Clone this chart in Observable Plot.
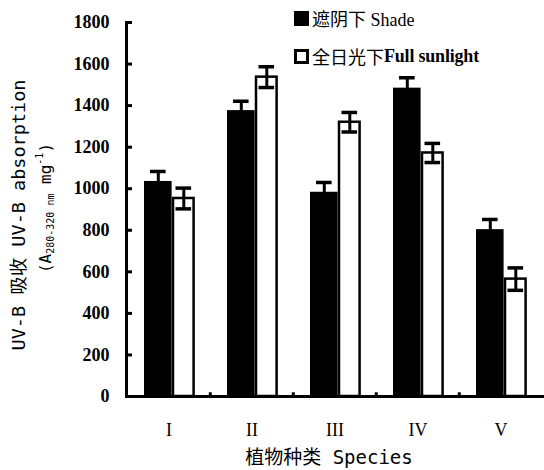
<!DOCTYPE html>
<html>
<head>
<meta charset="utf-8">
<script src="https://cdn.jsdelivr.net/npm/d3@7"></script>
<script src="https://cdn.jsdelivr.net/npm/@observablehq/plot@0.6"></script>
<style>
  html, body { margin: 0; padding: 0; background: #fff; }
  #wrap { position: relative; width: 544px; height: 470px; }
  #legend { position: absolute; left: 294px; top: 8px; font-family: "Liberation Serif", "Noto Sans CJK SC", serif; font-size: 18px; color: #000; }
  .row { display: flex; align-items: center; height: 20px; margin-bottom: 18px; white-space: nowrap; }
  .sw { width: 15px; height: 15px; box-sizing: border-box; margin-right: 3px; }
  .sw.shade { background: #000; }
  .sw.sun { background: #fff; border: 3px solid #000; }
  .bold { font-weight: bold; letter-spacing: -0.2px; }
</style>
</head>
<body>
<div id="wrap">
  <div id="chart"></div>
  <div id="legend"></div>
</div>
<script>
// ---- data ----
const species = ["I", "II", "III", "IV", "V"];
const shadeValues = [1035, 1376, 983, 1484, 803];
const shadeErrors = [48, 45, 47, 50, 49];
const sunValues = [953, 1537, 1320, 1172, 565];
const sunErrors = [50, 50, 47, 46, 54];
const yTicks = [0, 200, 400, 600, 800, 1000, 1200, 1400, 1600, 1800];
const seriesNames = ["遮阴下 Shade", "全日光下Full sunlight"];

const rows = species.map((s, i) => ({
  species: s,
  shade: shadeValues[i], shadeLo: shadeValues[i] - shadeErrors[i], shadeHi: shadeValues[i] + shadeErrors[i],
  sun: sunValues[i], sunLo: sunValues[i] - sunErrors[i], sunHi: sunValues[i] + sunErrors[i]
}));

const W = 544, H = 470, mL = 126, mR = 1, mT = 22, mB = 74;
const bw = (W - mL - mR) / species.length;
const cShade = 31, cSun = 56.5, capHalf = 8;

const serif = "Liberation Serif, DejaVu Serif, serif";

const svg = Plot.plot({
  width: W, height: H,
  marginLeft: mL, marginRight: mR, marginTop: mT, marginBottom: mB,
  style: { background: "#fff", color: "#000" },
  x: { domain: species, padding: 0, label: null },
  y: { domain: [0, 1800], label: null },
  marks: [
    Plot.barY(rows, { x: "species", y: "shade", fill: "#000", insetLeft: 17, insetRight: bw - 45 }),
    Plot.barY(rows, { x: "species", y: "sun", fill: "#fff", stroke: "#000", strokeWidth: 2.5, insetLeft: 46, insetRight: bw - 67 }),
    // error bars shade
    Plot.ruleX(rows, { x: "species", y1: "shadeLo", y2: "shadeHi", dx: cShade - bw / 2, stroke: "#000", strokeWidth: 3 }),
    Plot.tickY(rows, { x: "species", y: "shadeHi", insetLeft: cShade - capHalf, insetRight: bw - cShade - capHalf, stroke: "#000", strokeWidth: 3.5 }),
    Plot.tickY(rows, { x: "species", y: "shadeLo", insetLeft: cShade - capHalf, insetRight: bw - cShade - capHalf, stroke: "#000", strokeWidth: 3.5 }),
    // error bars sun
    Plot.ruleX(rows, { x: "species", y1: "sunLo", y2: "sunHi", dx: cSun - bw / 2, stroke: "#000", strokeWidth: 3 }),
    Plot.tickY(rows, { x: "species", y: "sunHi", insetLeft: cSun - capHalf, insetRight: bw - cSun - capHalf, stroke: "#000", strokeWidth: 3.5 }),
    Plot.tickY(rows, { x: "species", y: "sunLo", insetLeft: cSun - capHalf, insetRight: bw - cSun - capHalf, stroke: "#000", strokeWidth: 3.5 }),
    // small boundary ticks on x axis
    Plot.ruleX(species.slice(1), { x: d => d, y1: 0, y2: 18, dx: -bw / 2, stroke: "#000", strokeWidth: 3 }),
    // axis lines
    Plot.frame({ anchor: "left", stroke: "#000", strokeWidth: 3 }),
    Plot.frame({ anchor: "bottom", stroke: "#000", strokeWidth: 3 }),
    Plot.axisY({ ticks: yTicks, tickFormat: d => String(d), tickSize: 6, dx: 6, tickPadding: 17, strokeWidth: 3,
      fontSize: 18, fontWeight: "bold", fontFamily: serif }),
    Plot.axisX({ tickSize: 0, tickPadding: 27, fontSize: 18, fontFamily: serif })
  ]
});

document.getElementById("chart").appendChild(svg);

// axis titles
const s = d3.select(svg);
s.append("text")
  .attr("x", 329).attr("y", 457)
  .attr("text-anchor", "middle").attr("dominant-baseline", "central")
  .attr("font-family", "DejaVu Sans Mono, Noto Sans CJK SC, monospace")
  .attr("font-size", 19).attr("fill", "#000")
  .text("植物种类 Species");

s.append("text")
  .attr("transform", "translate(18,215) rotate(-90)")
  .attr("text-anchor", "middle").attr("dominant-baseline", "central")
  .attr("font-family", "DejaVu Sans Mono, Noto Sans CJK SC, monospace")
  .attr("font-size", 18.5).attr("fill", "#000")
  .text("UV-B 吸收 UV-B absorption");

const t2 = s.append("text")
  .attr("transform", "translate(45,208) rotate(-90)")
  .attr("text-anchor", "middle").attr("dominant-baseline", "central")
  .attr("font-family", "DejaVu Sans Mono, monospace")
  .attr("font-size", 16).attr("fill", "#000");
t2.append("tspan").text("(A");
t2.append("tspan").attr("font-size", 10).attr("dy", 5).text("280-320 nm");
t2.append("tspan").attr("dy", -5).text(" mg");
t2.append("tspan").attr("font-size", 10).attr("dy", -6).text("-1");
t2.append("tspan").attr("dy", 6).text(")");

// legend
const legend = d3.select("#legend");
const lr1 = legend.append("div").attr("class", "row");
lr1.append("div").attr("class", "sw shade");
lr1.append("span").text(seriesNames[0]);
const lr2 = legend.append("div").attr("class", "row");
lr2.append("div").attr("class", "sw sun");
lr2.append("span").text("全日光下");
lr2.append("span").attr("class", "bold").text("Full sunlight");
</script>
</body>
</html>
